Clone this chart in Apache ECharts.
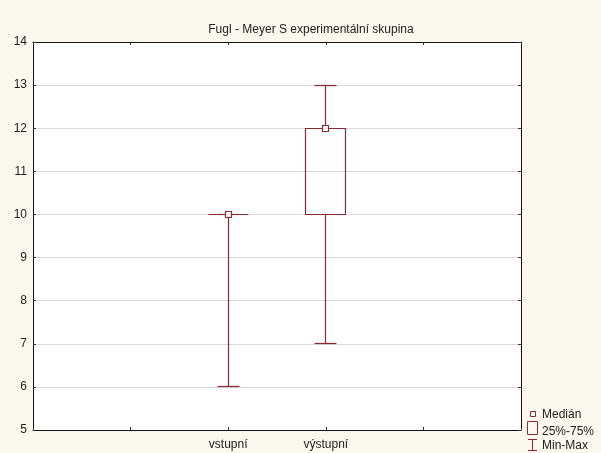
<!DOCTYPE html>
<html>
<head>
<meta charset="utf-8">
<script src="https://cdn.jsdelivr.net/npm/echarts@6/dist/echarts.min.js"></script>
<style>
  html, body { margin: 0; padding: 0; background: #fdf8ee; }
  #chart { width: 601px; height: 453px; }
</style>
</head>
<body>
<div id="chart"></div>
<script>
// Axis slots: the two groups sit in the middle of six evenly spaced positions
const xSlots = ['', '', 'vstupní', 'výstupní', '', ''];
const groups = ['vstupní', 'výstupní'];
const minValues = [6, 7];
const q1Values = [10, 10];
const medianValues = [10, 12];
const q3Values = [10, 12];
const maxValues = [10, 13];
const yTicks = [5, 6, 7, 8, 9, 10, 11, 12, 13, 14];

const ink = '#8c2a34';
const font = 'Arial, "Liberation Sans", sans-serif';

const boxData = groups.map((g, i) => [g, minValues[i], q1Values[i], medianValues[i], q3Values[i], maxValues[i]]);

function crisp(v) { return Math.round(v - 0.5) + 0.5; }

function renderBox(params, api) {
  const cat = api.value(0);
  const x = crisp(api.coord([cat, 0])[0]);
  const y = (v) => crisp(api.coord([cat, v])[1]);
  const yMin = y(api.value(1)), yQ1 = y(api.value(2)), yMed = y(api.value(3));
  const yQ3 = y(api.value(4)), yMax = y(api.value(5));
  const boxHalf = 20, capHalf = 11, med = 3;
  const line = { stroke: ink, lineWidth: 1.2, fill: null };
  return {
    type: 'group',
    children: [
      { type: 'line', shape: { x1: x, y1: yQ3, x2: x, y2: yMax }, style: line },
      { type: 'line', shape: { x1: x, y1: yQ1, x2: x, y2: yMin }, style: line },
      { type: 'line', shape: { x1: x - capHalf, y1: yMax, x2: x + capHalf, y2: yMax }, style: line },
      { type: 'line', shape: { x1: x - capHalf, y1: yMin, x2: x + capHalf, y2: yMin }, style: line },
      { type: 'rect', shape: { x: x - boxHalf, y: yQ3, width: boxHalf * 2, height: Math.max(yQ1 - yQ3, 0) },
        style: { stroke: ink, lineWidth: 1.2, fill: 'rgba(255,255,255,0)' } },
      { type: 'rect', shape: { x: x - med, y: yMed - med, width: med * 2, height: med * 2 },
        style: { stroke: ink, lineWidth: 1.2, fill: '#ffffff' } }
    ]
  };
}

const axisLine = { show: true, lineStyle: { color: '#111', width: 1 } };
const tick = { show: true, inside: true, length: 3, lineStyle: { color: '#333' } };

const chart = echarts.init(document.getElementById('chart'), null, { renderer: 'canvas' });
chart.setOption({
  backgroundColor: '#fdf8ee',
  animation: false,
  title: {
    text: 'Fugl - Meyer S experimentální skupina',
    left: 306, top: 19, textAlign: 'center',
    textStyle: { fontFamily: font, fontSize: 12, fontWeight: 'normal', color: '#222' }
  },
  grid: {
    left: 33, right: 80, top: 42, bottom: 23,
    show: true, backgroundColor: '#ffffff', borderWidth: 0
  },
  xAxis: [
    {
      type: 'category', data: xSlots, boundaryGap: false, position: 'bottom',
      axisLine, axisTick: tick,
      axisLabel: { interval: 0, margin: 9, fontFamily: font, fontSize: 12, color: '#222' },
      splitLine: { show: false }
    },
    {
      type: 'category', data: xSlots, boundaryGap: false, position: 'top',
      axisLine, axisTick: tick, axisLabel: { show: false }, splitLine: { show: false }
    }
  ],
  yAxis: [
    {
      type: 'value', min: yTicks[0], max: yTicks[yTicks.length - 1], interval: 1, position: 'left',
      axisLine, axisTick: tick,
      axisLabel: { margin: 6, fontFamily: font, fontSize: 12, color: '#222' },
      splitLine: { show: true, lineStyle: { color: '#d9d9d9', width: 1 } }
    },
    {
      type: 'value', min: yTicks[0], max: yTicks[yTicks.length - 1], interval: 1, position: 'right',
      axisLine, axisTick: tick, axisLabel: { show: false }, splitLine: { show: false }
    }
  ],
  series: [{
    type: 'custom',
    xAxisIndex: 0, yAxisIndex: 0,
    renderItem: renderBox,
    encode: { x: 0, y: [1, 2, 3, 4, 5] },
    data: boxData,
    z: 5
  }],
  graphic: [
    // legend: median marker, quartile box, min-max whisker
    { type: 'rect', shape: { x: 530.5, y: 411.5, width: 5, height: 5 }, style: { stroke: ink, lineWidth: 1, fill: '#fff' } },
    { type: 'text', left: 542, top: 409, style: { text: 'Medián', font: '12px ' + font, fill: '#222' } },
    { type: 'rect', shape: { x: 527.5, y: 421.5, width: 10, height: 13 }, style: { stroke: ink, lineWidth: 1, fill: 'rgba(0,0,0,0)' } },
    { type: 'text', left: 542, top: 426, style: { text: '25%-75%', font: '12px ' + font, fill: '#222' } },
    { type: 'line', shape: { x1: 528, y1: 439.5, x2: 537, y2: 439.5 }, style: { stroke: ink, lineWidth: 1 } },
    { type: 'line', shape: { x1: 532.5, y1: 439.5, x2: 532.5, y2: 450.5 }, style: { stroke: ink, lineWidth: 1 } },
    { type: 'line', shape: { x1: 528, y1: 450.5, x2: 537, y2: 450.5 }, style: { stroke: ink, lineWidth: 1 } },
    { type: 'text', left: 542, top: 440, style: { text: 'Min-Max', font: '12px ' + font, fill: '#222' } }
  ]
});
</script>
</body>
</html>
